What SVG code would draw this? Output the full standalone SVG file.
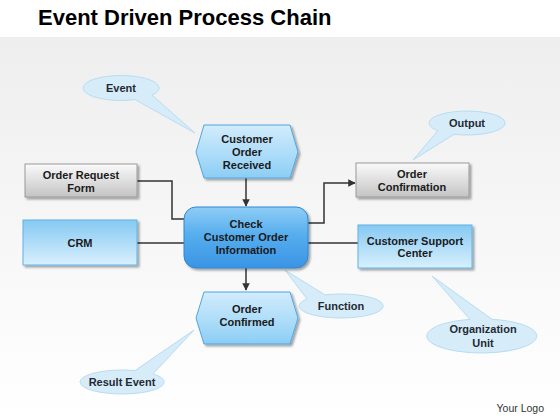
<svg xmlns="http://www.w3.org/2000/svg" width="560" height="420" viewBox="0 0 560 420">
<defs>
<linearGradient id="bg" x1="0" y1="0" x2="0" y2="1"><stop offset="0" stop-color="#eeeeee"/><stop offset="1" stop-color="#ffffff"/></linearGradient>
<linearGradient id="gHex" x1="0" y1="0" x2="0" y2="1"><stop offset="0" stop-color="#d2ecfc"/><stop offset="0.6" stop-color="#a9dbf8"/><stop offset="1" stop-color="#8ccdf4"/></linearGradient>
<linearGradient id="gBox" x1="0" y1="0" x2="0" y2="1"><stop offset="0" stop-color="#86c9f2"/><stop offset="1" stop-color="#d8f0fd"/></linearGradient>
<linearGradient id="gMain" x1="0" y1="0" x2="0" y2="1"><stop offset="0" stop-color="#8fcdf5"/><stop offset="0.45" stop-color="#56aeee"/><stop offset="1" stop-color="#3a94e4"/></linearGradient>
<linearGradient id="gGray" x1="0" y1="0" x2="0" y2="1"><stop offset="0" stop-color="#fafafa"/><stop offset="1" stop-color="#c4c4c4"/></linearGradient>
<filter id="sh" x="-10%" y="-10%" width="125%" height="135%"><feDropShadow dx="2" dy="2" stdDeviation="1.2" flood-color="#000" flood-opacity="0.35"/></filter>
<marker id="arr" viewBox="0 0 10 10" refX="9" refY="5" markerWidth="5" markerHeight="5" orient="auto"><path d="M0,0 L10,5 L0,10 Z" fill="#333"/></marker>
<style>
.node{font-family:"Liberation Sans",Arial,sans-serif;font-weight:bold;font-size:11px;fill:#1a1a1a;text-anchor:middle}
.call{font-family:"Liberation Sans",Arial,sans-serif;font-weight:bold;font-size:11px;fill:#1f2a33;text-anchor:middle}
.callout{fill:#d6ecf9;stroke:#b8dcf1;stroke-width:1}
.hex{fill:url(#gHex);stroke:#4fa6e0;stroke-width:1}
.box{fill:url(#gBox);stroke:#5fb2e6;stroke-width:1}
.gray{fill:url(#gGray);stroke:#9a9a9a;stroke-width:1}
.conn{fill:none;stroke:#333;stroke-width:1.5}
</style>
</defs>
<rect x="0" y="0" width="560" height="420" fill="#ffffff"/>
<rect x="0" y="37" width="560" height="383" fill="url(#bg)"/>
<text x="38" y="25" font-family="'Liberation Sans',Arial,sans-serif" font-weight="bold" font-size="22" fill="#000">Event Driven Process Chain</text>

<g id="callout-event"><path class="callout" d="M135,99.6 L195,133 L152,95.2 A38,12.5 0 1 0 135,99.6 Z"/><text class="call" x="121" y="92">Event</text></g>
<g id="callout-output"><path class="callout" d="M454,134.3 L413,160 L437.9,130.7 A38,12 0 1 1 454,134.3 Z"/><text class="call" x="467" y="127">Output</text></g>
<g id="callout-function"><path class="callout" d="M307,299 L285,270 L325,294.9 A42,12 0 1 1 307,299 Z"/><text class="call" x="341" y="310">Function</text></g>
<g id="callout-result"><path class="callout" d="M135,370.6 L194,330 L153,373.9 A42,12 0 1 1 135,370.6 Z"/><text class="call" x="122" y="386">Result Event</text></g>
<g id="callout-org"><path class="callout" d="M470,319.4 L432,276 L492,319.3 A55,17 0 1 1 470,319.4 Z"/><text class="call" x="483" y="333">Organization</text><text class="call" x="483" y="347">Unit</text></g>

<g id="connectors">
<path class="conn" d="M137,181 H172 V219 H184"/>
<path class="conn" d="M137,243 H184"/>
<path class="conn" d="M308,243 H358"/>
<path class="conn" d="M308,223 H324 V183 H355" marker-end="url(#arr)"/>
<path class="conn" d="M246,178 V206" marker-end="url(#arr)"/>
<path class="conn" d="M246,268 V290" marker-end="url(#arr)"/>
</g>

<g id="customer-order-received" filter="url(#sh)"><path class="hex" d="M204,125 H290 L298,152 L290,178 H204 L196,152 Z"/></g>
<g id="customer-order-received-label"><text class="node" x="247" y="143">Customer</text><text class="node" x="247" y="156">Order</text><text class="node" x="247" y="169">Received</text></g>

<g id="check-customer-order" filter="url(#sh)"><rect x="184" y="207" width="124" height="61" rx="12" fill="url(#gMain)" stroke="#2f86d6" stroke-width="1"/></g>
<g id="check-customer-order-label"><text class="node" x="246" y="228">Check</text><text class="node" x="246" y="241">Customer Order</text><text class="node" x="246" y="254">Information</text></g>

<g id="order-confirmed" filter="url(#sh)"><path class="hex" d="M204,292 H290 L298,318 L290,344 H204 L196,318 Z"/></g>
<g id="order-confirmed-label"><text class="node" x="247" y="313">Order</text><text class="node" x="247" y="326">Confirmed</text></g>

<g id="order-request-form"><rect class="gray" x="25" y="164" width="112" height="33" filter="url(#sh)"/><text class="node" x="81" y="179">Order Request</text><text class="node" x="81" y="192">Form</text></g>

<g id="crm"><rect class="box" x="23" y="220" width="114" height="45" filter="url(#sh)"/><text class="node" x="80" y="247">CRM</text></g>

<g id="order-confirmation"><rect class="gray" x="356" y="163" width="113" height="34" filter="url(#sh)"/><text class="node" x="412" y="178">Order</text><text class="node" x="412" y="191">Confirmation</text></g>

<g id="customer-support-center"><rect class="box" x="358" y="225" width="114" height="43" filter="url(#sh)"/><text class="node" x="415" y="245">Customer Support</text><text class="node" x="415" y="257">Center</text></g>

<text x="544" y="412" text-anchor="end" font-family="'Liberation Sans',Arial,sans-serif" font-size="10.5" fill="#333">Your Logo</text>
</svg>
